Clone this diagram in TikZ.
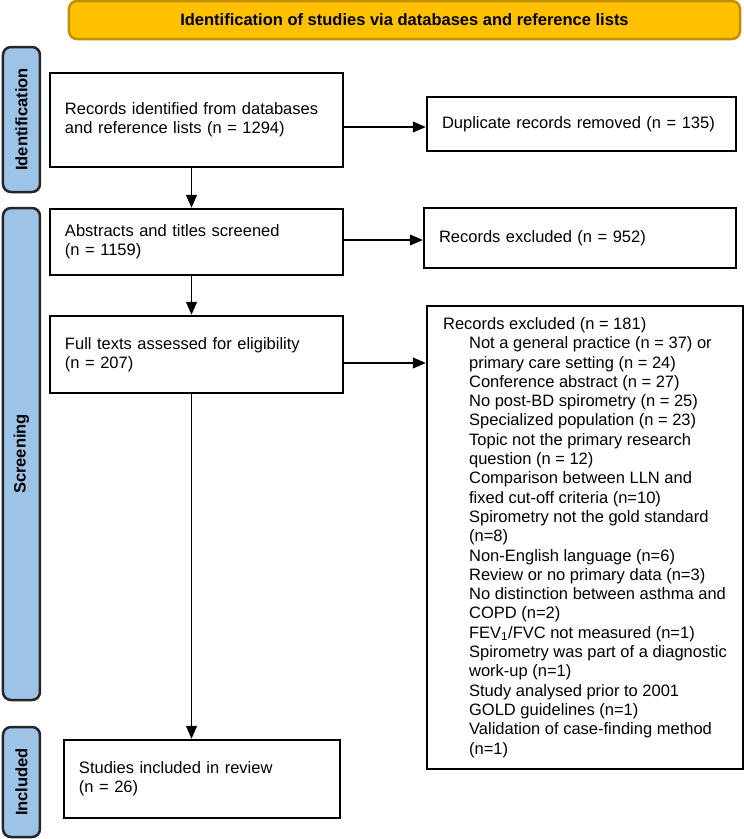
\documentclass[tikz,border=0pt]{standalone}
\usepackage{fontspec}
\setmainfont{Liberation Sans}
\usepackage{tikz}
\usetikzlibrary{shapes.geometric, arrows, arrows.meta}
\definecolor{headfill}{HTML}{FFC000}
\definecolor{headline}{HTML}{BF9000}
\definecolor{barfill}{HTML}{9DC3E6}
\tikzstyle{header} = [rectangle, rounded corners=8pt, minimum width=671pt, minimum height=38pt, text centered, draw=headline, line width=2.5pt, fill=headfill, font=\fontsize{16.5}{19.3}\selectfont\bfseries]
\tikzstyle{phase} = [rectangle, rounded corners=8pt, minimum height=37pt, text centered, draw=black!85, line width=2.5pt, fill=barfill, font=\fontsize{16.5}{19.3}\selectfont\bfseries]
\tikzstyle{process} = [rectangle, text width=263pt, inner xsep=15pt, align=left, draw=black, line width=2.5pt]
\tikzstyle{arrow} = [line width=1.2pt,-{Triangle[length=13pt,width=11pt]}]
\newcommand{\exind}{\hspace*{26pt}}

\begin{document}
\begin{tikzpicture}[x=1pt, y=1pt, node distance=120pt, font=\fontsize{16.5}{19.3}\selectfont]
				\useasboundingbox (-196.5,120) rectangle (547.5,-719);
				\node(rec) [process, minimum height=94pt] {Records identified from databases\\and reference lists (n = 1294)};
				\node(head) [header, above of=rec, yshift=-20pt, xshift=208pt] {Identification of studies via databases and reference lists};
				%----------------------------------------------------%
				\node(idbar) [phase, minimum width=145pt, rotate=90] at (-175,0.5) {Identification};
				\node(scrbar) [phase, minimum width=492pt, rotate=90] at (-175,-334) {Screening};
				\node(incbar) [phase, minimum width=110pt, rotate=90] at (-175,-662) {Included};
				%----------------------------------------------------%
				\node(dup) [process, text width=279pt, minimum height=54pt, right of=rec, xshift=265pt, yshift=-4pt] {Duplicate records removed (n = 135)};
				\node(abs) [process, minimum height=66pt, below of=rec, yshift=-2pt] {Abstracts and titles screened\\(n = 1159)};
				\node(exc1) [process, text width=282pt, minimum height=60pt, right of=abs, xshift=263.5pt, yshift=4pt] {Records excluded (n = 952)};
				\node(full) [process, minimum height=77pt, below of=abs, yshift=7.5pt] {Full texts assessed for eligibility\\(n = 207)};
				\node(exc2) [rectangle, align=left, draw=black, line width=2.5pt, minimum width=316pt, minimum height=463pt, right of=full, xshift=268.5pt, yshift=-183pt] {Records excluded (n = 181)\\
					\exind Not a general practice (n = 37) or\\
					\exind primary care setting (n = 24)\\
					\exind Conference abstract (n = 27)\\
					\exind No post-BD spirometry (n = 25)\\
					\exind Specialized population (n = 23)\\
					\exind Topic not the primary research\\
					\exind question (n = 12)\\
					\exind Comparison between LLN and\\
					\exind fixed cut-off criteria (n=10)\\
					\exind Spirometry not the gold standard\\
					\exind (n=8)\\
					\exind Non-English language (n=6)\\
					\exind Review or no primary data (n=3)\\
					\exind No distinction between asthma and\\
					\exind COPD (n=2)\\
					\exind FEV\textsubscript{1}/FVC not measured (n=1)\\
					\exind Spirometry was part of a diagnostic\\
					\exind work-up (n=1)\\
					\exind Study analysed prior to 2001\\
					\exind GOLD guidelines (n=1)\\
					\exind Validation of case-finding method\\
					\exind (n=1)};
				\node(inc) [process, text width=246pt, minimum height=78pt, below of=full, yshift=-304.5pt, xshift=5.5pt] {Studies included in review\\(n = 26)};
				%----------------------------------------------------%
				\draw[arrow] ([yshift=-7pt]rec.east) -- ([yshift=-7pt]rec.east -| dup.west);
				\draw[arrow] ([xshift=-5pt]rec.south) -- ([xshift=-5pt]rec.south |- abs.north);
				\draw[arrow] ([yshift=2pt]abs.east) -- ([yshift=2pt]abs.east -| exc1.west);
				\draw[arrow] ([xshift=-5pt]abs.south) -- ([xshift=-5pt]abs.south |- full.north);
				\draw[arrow] ([yshift=-8.5pt]full.east) -- ([yshift=-8.5pt]full.east -| exc2.west);
				\draw[arrow] ([xshift=-5pt]full.south) -- ([xshift=-5pt]full.south |- inc.north);
			\end{tikzpicture}
\end{document}
